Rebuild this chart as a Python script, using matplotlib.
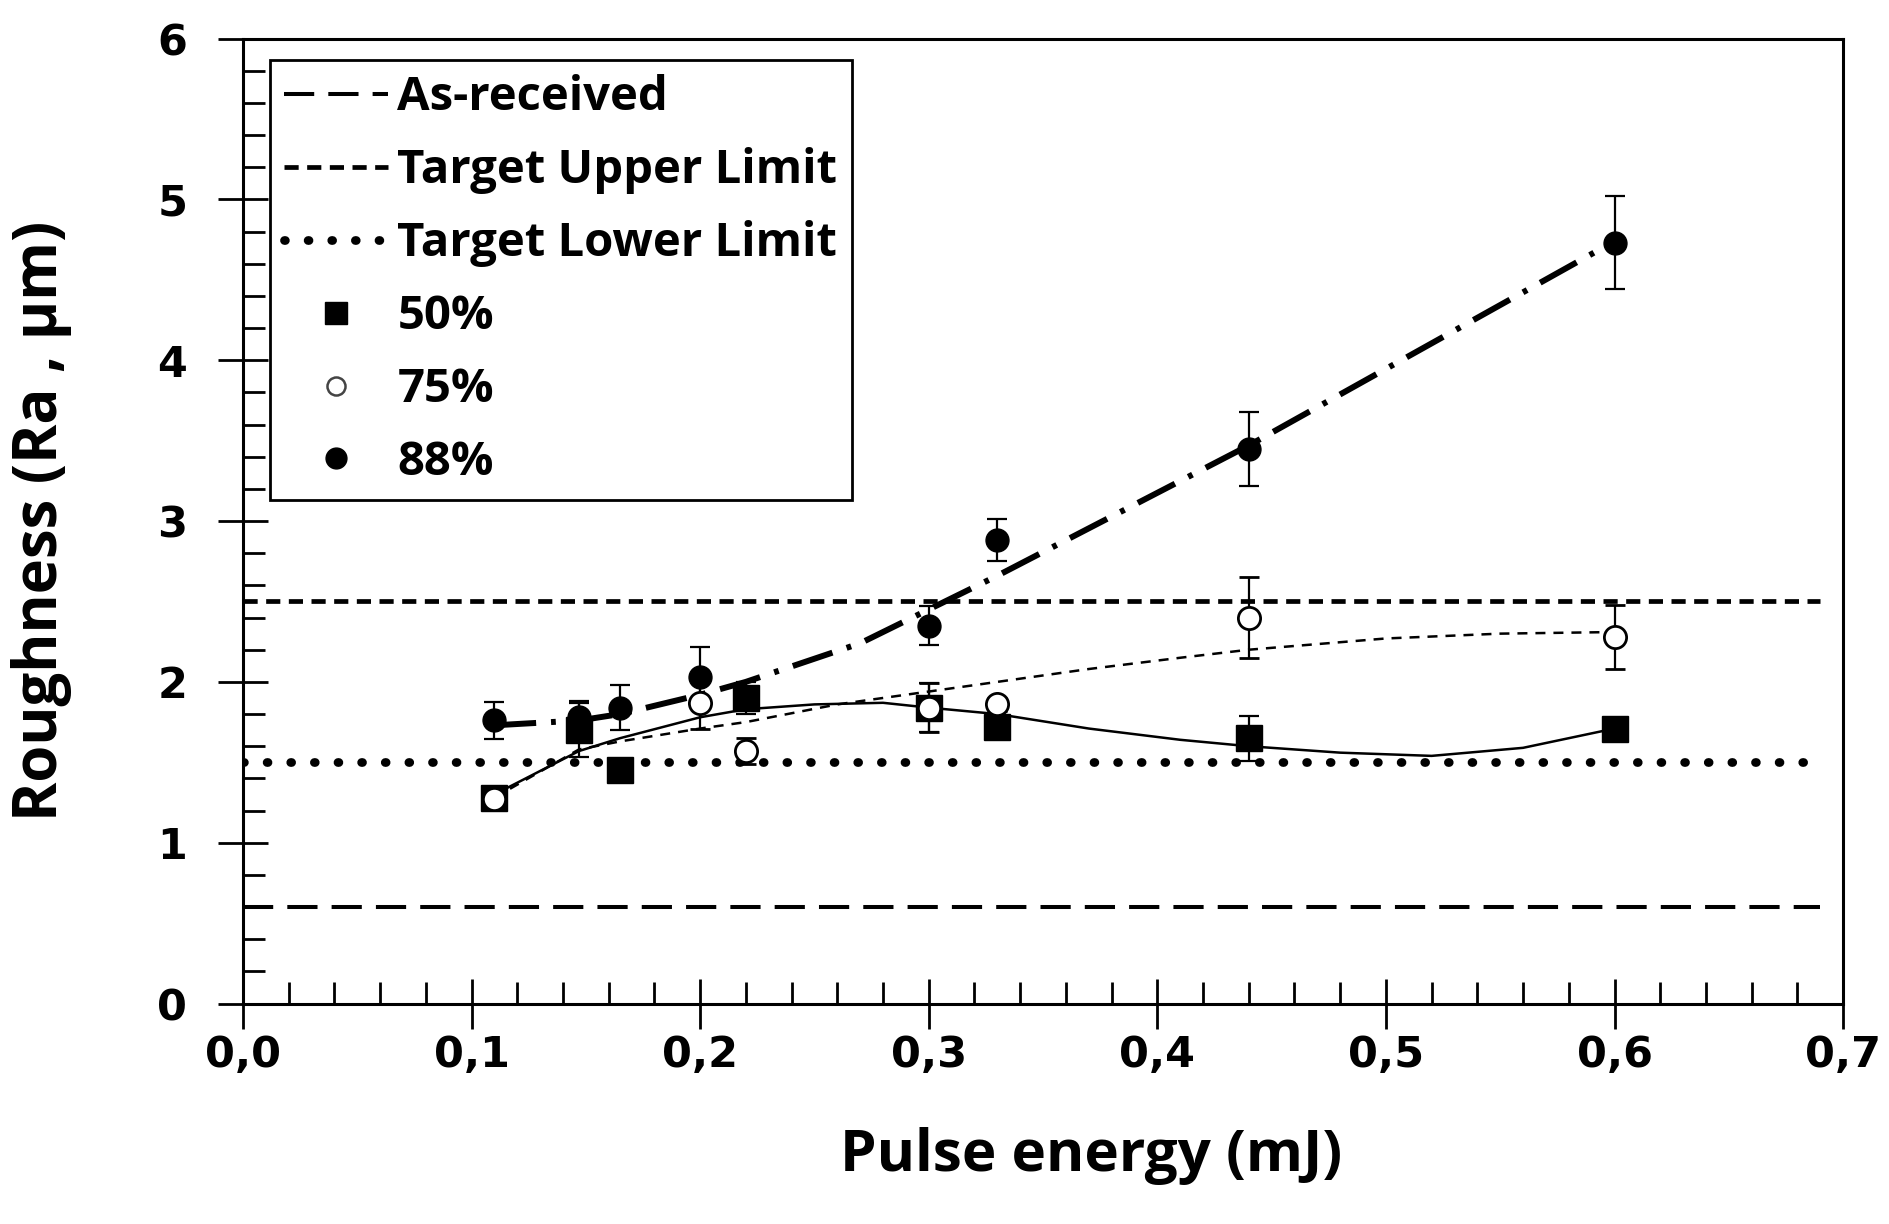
import numpy as np
import matplotlib
matplotlib.use("Agg")
import matplotlib.pyplot as plt
from matplotlib.ticker import MultipleLocator, FuncFormatter

# reference levels
as_received = 0.6
upper_limit = 2.5
lower_limit = 1.5
level_x = [0.0, 0.69]

# measured points (pulse energy mJ, Ra um, error)
x50 = [0.11, 0.147, 0.165, 0.22, 0.3, 0.33, 0.44, 0.6]
y50 = [1.28, 1.70, 1.45, 1.90, 1.84, 1.72, 1.65, 1.71]
e50 = [0.05, 0.17, 0.05, 0.10, 0.15, 0.05, 0.14, 0.04]

x75 = [0.11, 0.2, 0.22, 0.3, 0.33, 0.44, 0.6]
y75 = [1.27, 1.87, 1.57, 1.84, 1.86, 2.40, 2.28]
e75 = [0.04, 0.16, 0.08, 0.15, 0.04, 0.25, 0.20]

x88 = [0.11, 0.147, 0.165, 0.2, 0.3, 0.33, 0.44, 0.6]
y88 = [1.76, 1.78, 1.84, 2.03, 2.35, 2.88, 3.45, 4.73]
e88 = [0.115, 0.10, 0.14, 0.19, 0.12, 0.13, 0.23, 0.29]

# trend curves
t50_x = [0.11, 0.147, 0.165, 0.2, 0.22, 0.25, 0.28, 0.3, 0.33, 0.37, 0.41, 0.44, 0.48, 0.52, 0.56, 0.6]
t50_y = [1.30, 1.57, 1.65, 1.78, 1.83, 1.86, 1.87, 1.84, 1.80, 1.71, 1.64, 1.60, 1.56, 1.54, 1.59, 1.71]
t75_x = [0.11, 0.147, 0.165, 0.2, 0.22, 0.26, 0.3, 0.33, 0.37, 0.41, 0.44, 0.5, 0.55, 0.6]
t75_y = [1.28, 1.58, 1.63, 1.71, 1.75, 1.86, 1.94, 2.00, 2.08, 2.15, 2.20, 2.27, 2.30, 2.31]
t88_x = [0.11, 0.147, 0.165, 0.2, 0.22, 0.27, 0.3, 0.33, 0.44, 0.6]
t88_y = [1.73, 1.76, 1.80, 1.92, 2.00, 2.24, 2.45, 2.66, 3.47, 4.74]

label_font = "Open Sans"
tick_font = "DejaVu Sans"

fig = plt.figure(figsize=(18.89, 12.24), dpi=100)
ax = fig.add_axes([0.1286, 0.1801, 0.8471, 0.7884])

# horizontal reference lines
l1, = ax.plot(level_x, [as_received] * 2, color="black", lw=2.9, dashes=(7.5, 3.5), label="As-received")
l2, = ax.plot(level_x, [upper_limit] * 2, color="black", lw=3.4, dashes=(3.0, 1.8), label="Target Upper Limit")
l3, = ax.plot(level_x, [lower_limit] * 2, color="black", lw=6.3, dashes=(0.1, 2.6),
              dash_capstyle="round", label="Target Lower Limit")

# trend lines
ax.plot(t50_x, t50_y, color="black", lw=1.8)
ax.plot(t75_x, t75_y, color="black", lw=1.8, dashes=(4, 3.2))
ax.plot(t88_x, t88_y, color="black", lw=4.3, dashes=(7, 2.5, 0.8, 2.5))

# points with error bars
ekw = dict(ecolor="black", elinewidth=1.6, capsize=7.5, capthick=1.6, linestyle="none")
ax.errorbar(x50, y50, yerr=e50, marker="s", ms=19, mfc="black", mec="black", **ekw)
ax.errorbar(x75, y75, yerr=e75, marker="o", ms=16, mfc="white", mec="black", mew=2.0, **ekw)
ax.errorbar(x88, y88, yerr=e88, marker="o", ms=16.5, mfc="black", mec="black", **ekw)

# legend proxies for markers
h50, = ax.plot([], [], "s", ms=16, color="black", label="50%")
h75, = ax.plot([], [], "o", ms=13, mfc="white", mec="#444444", mew=1.8, label="75%")
h88, = ax.plot([], [], "o", ms=15, color="black", label="88%")

leg = fig.legend(handles=[l1, l2, l3, h50, h75, h88], loc="upper left",
                 bbox_to_anchor=(0.1429, 0.951), borderaxespad=0,
                 prop={"family": label_font, "weight": "bold", "size": 34},
                 handlelength=2.2, handletextpad=0.2, labelspacing=0.55, borderpad=0.3,
                 fancybox=False, edgecolor="black", framealpha=1)
leg.get_frame().set_linewidth(2.0)

ax.set_xlim(0, 0.7)
ax.set_ylim(0, 6)
ax.xaxis.set_major_locator(MultipleLocator(0.1))
ax.xaxis.set_minor_locator(MultipleLocator(0.02))
ax.yaxis.set_major_locator(MultipleLocator(1))
ax.yaxis.set_minor_locator(MultipleLocator(0.2))
ax.xaxis.set_major_formatter(FuncFormatter(lambda v, p: f"{v:.1f}".replace(".", ",")))
ax.yaxis.set_major_formatter(FuncFormatter(lambda v, p: f"{v:.0f}"))

for s in ax.spines.values():
    s.set_linewidth(2.2)
ax.tick_params(which="major", direction="inout", length=36, width=2.0)
ax.tick_params(which="minor", direction="in", length=16, width=2.0)
ax.tick_params(axis="y", which="major", pad=22)
ax.tick_params(axis="x", which="major", pad=4)
for lab in ax.get_xticklabels() + ax.get_yticklabels():
    lab.set_fontfamily(tick_font)
    lab.set_fontweight("bold")
    lab.set_fontsize(31)

ax.set_xlabel("Pulse energy (mJ)", fontfamily=label_font, fontweight="bold", fontsize=42)
ax.set_ylabel("Roughness (Ra , µm)", fontfamily=label_font, fontweight="bold", fontsize=43)
ax.xaxis.set_label_coords(0.53, -0.128)
ax.yaxis.set_label_coords(-0.107, 0.5)

fig.savefig("out.png", dpi=100)
